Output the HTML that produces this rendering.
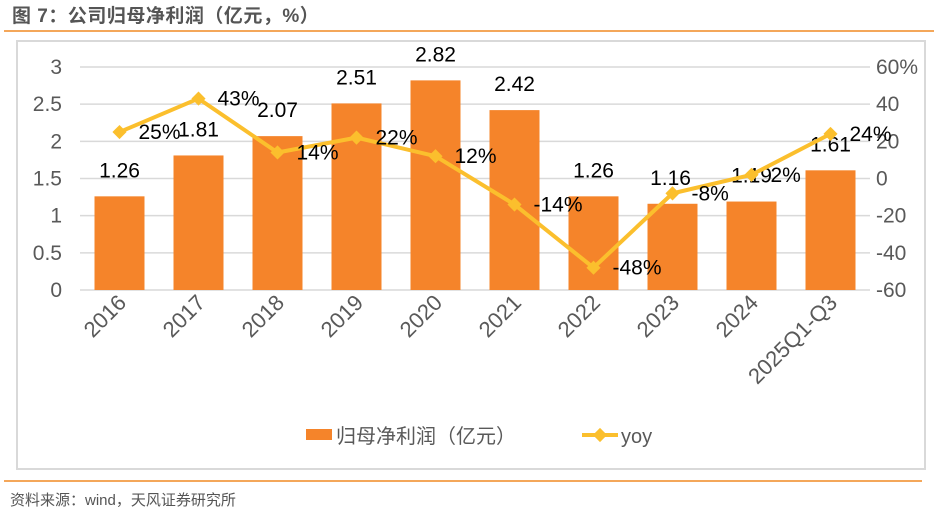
<!DOCTYPE html>
<html><head><meta charset="utf-8"><style>
body{margin:0;background:#fff;width:938px;height:517px;overflow:hidden;font-family:"Liberation Sans","Noto Sans CJK SC",sans-serif}
</style></head><body>
<svg width="938" height="517">
<text x="12" y="22" font-size="19" font-weight="bold" fill="#555" letter-spacing="0.5" font-family="Liberation Sans, Noto Sans CJK SC, sans-serif">图 7：公司归母净利润（亿元，%）</text>
<line x1="4" y1="31" x2="934" y2="31" stroke="#f08a24" stroke-width="1.5"/>
<rect x="17" y="41" width="908" height="428" fill="none" stroke="#d9d9d9" stroke-width="2"/>
<g id="plot"></g>
<rect x="306" y="429" width="26" height="11" fill="#f5842a"/>
<text x="336" y="443" font-size="20" fill="#595959">归母净利润（亿元）</text>
<line x1="582" y1="435" x2="618" y2="435" stroke="#fbbf2d" stroke-width="4"/>
<rect x="595" y="430" width="10" height="10" fill="#fbbf2d" transform="rotate(45 600 435)"/>
<text x="621" y="443" font-size="20" fill="#595959">yoy</text>
<line x1="4" y1="481" x2="922" y2="481" stroke="#f08a24" stroke-width="1.5"/>
<text x="10" y="505" font-size="15" fill="#555">资料来源：wind，天风证券研究所</text>
</svg>
<script>
const categories=["2016","2017","2018","2019","2020","2021","2022","2023","2024","2025Q1-Q3"];
const profit=[1.26,1.81,2.07,2.51,2.82,2.42,1.26,1.16,1.19,1.61];
const yoy=[25,43,14,22,12,-14,-48,-8,2,24];
const leftTicks=["0","0.5","1","1.5","2","2.5","3"];
const rightTicks=["-60","-40","-20","0","20","40","60%"];
const NS="http://www.w3.org/2000/svg";
const g=document.getElementById("plot");
const x0=80,x1=870,yTop=67,yBot=290;
const step=(x1-x0)/categories.length;
const xc=i=>x0+step*(i+0.5);
const yL=v=>yBot-(v/3)*(yBot-yTop);
const yR=v=>yBot-((v+60)/120)*(yBot-yTop);
function el(t,a,txt){const e=document.createElementNS(NS,t);for(const k in a)e.setAttribute(k,a[k]);if(txt!=null)e.textContent=txt;g.appendChild(e);return e;}
leftTicks.forEach((t,i)=>{const y=yL(i*0.5);
 const l=el("line",{x1:x0,x2:x1,y1:y,y2:y,stroke:"#d9d9d9","stroke-width":1.5});
 
 
 const tx=el("text",{x:62,y:y+7,"font-size":21,fill:"#595959","text-anchor":"end"},t);
 
 
});
rightTicks.forEach((t,i)=>{const y=yR(-60+i*20);
 const tx=el("text",{x:876,y:y+7,"font-size":21,fill:"#595959"},t);
 
 
});
categories.forEach((c,i)=>{
 const b=el("rect",{x:xc(i)-25,y:yL(profit[i]),width:50,height:yBot-yL(profit[i]),fill:"#f5842a"});
 
 
 const t=el("text",{x:xc(i)+(i==7?-2:0),y:yL(profit[i])-19,"font-size":21,fill:"#000","text-anchor":"middle"},profit[i].toFixed(2));
 
 
 const cx=xc(i)+8,cy=yBot+14;
 const xl=el("text",{x:cx,y:cy,"font-size":22,fill:"#595959","text-anchor":"end",transform:`rotate(-45 ${cx} ${cy})`},c);
 
 
});
const pts=yoy.map((v,i)=>xc(i)+","+yR(v)).join(" ");
const pl=el("polyline",{points:pts,fill:"none",stroke:"#fbbf2d","stroke-width":4,"stroke-linejoin":"round"});


yoy.forEach((v,i)=>{const x=xc(i),y=yR(v);
 const m=el("rect",{x:x-5,y:y-5,width:10,height:10,fill:"#fbbf2d",transform:`rotate(45 ${x} ${y})`});
 
 
 const t=el("text",{x:x+19,y:y+7,"font-size":21,fill:"#000"},v+"%");
 
 
});
</script>
</body></html>
